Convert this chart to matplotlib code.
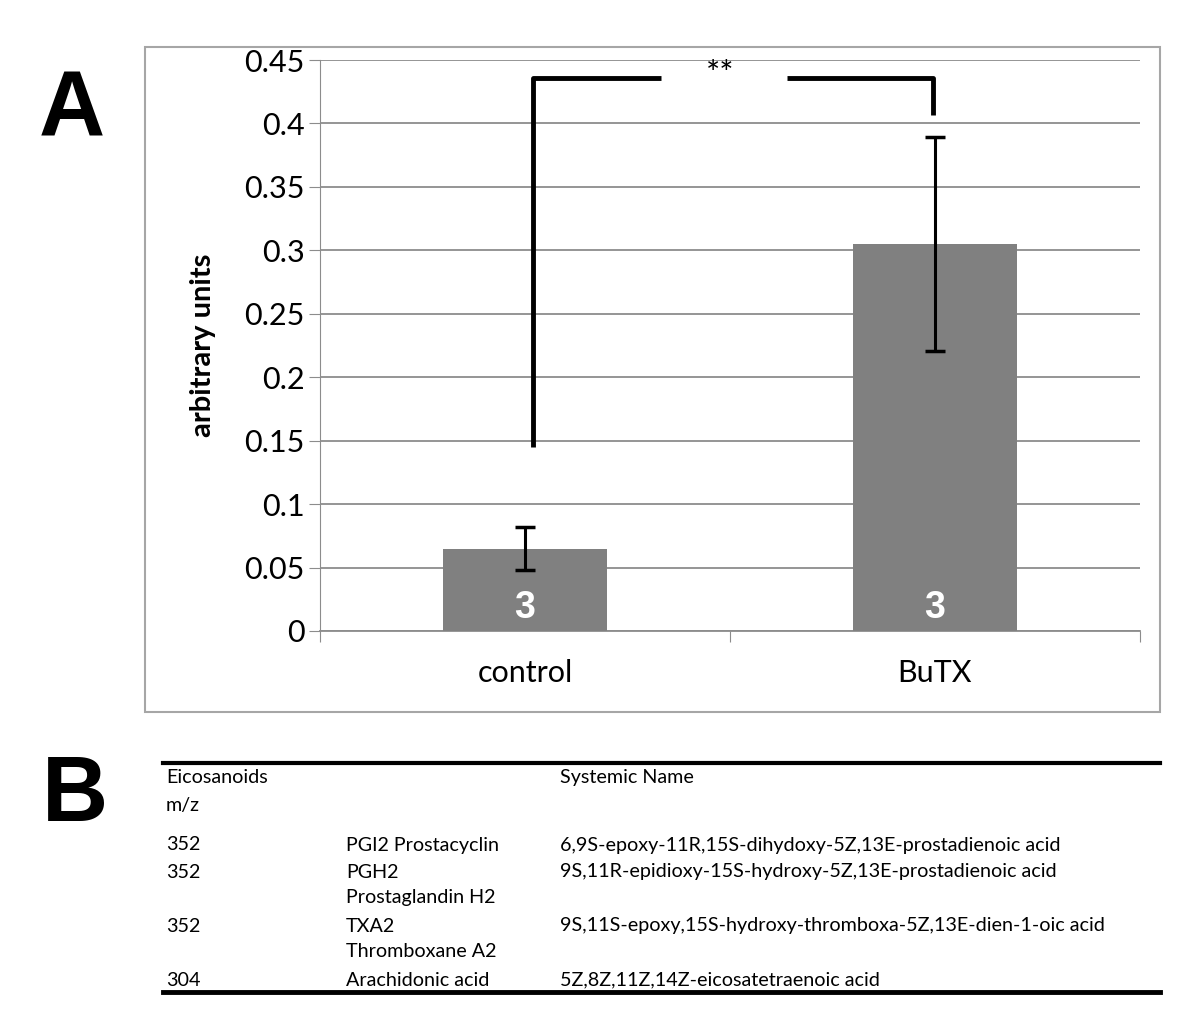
import numpy as np
import matplotlib
matplotlib.use('Agg')
from matplotlib import pyplot as plt
from matplotlib.patches import Rectangle
from matplotlib.lines import Line2D

plt.rcParams['font.family'] = ['Lato', 'DejaVu Sans']

# data
groups = ['control', 'BuTX']
means = [0.065, 0.305]
errs = [0.017, 0.084]
n_labels = ['3', '3']
yticks = [0, 0.05, 0.1, 0.15, 0.2, 0.25, 0.3, 0.35, 0.4, 0.45]
ytick_labels = ['0', '0.05', '0.1', '0.15', '0.2', '0.25', '0.3', '0.35', '0.4', '0.45']

tab_mz = ['352', '352', '352', '304']
tab_name = ['PGI2 Prostacyclin', 'PGH2\nProstaglandin H2', 'TXA2\nThromboxane A2', 'Arachidonic acid']
tab_sys = ['6,9S-epoxy-11R,15S-dihydoxy-5Z,13E-prostadienoic acid',
           '9S,11R-epidioxy-15S-hydroxy-5Z,13E-prostadienoic acid',
           '9S,11S-epoxy,15S-hydroxy-thromboxa-5Z,13E-dien-1-oic acid',
           '5Z,8Z,11Z,14Z-eicosatetraenoic acid']

W, H = 1200, 1032
fig = plt.figure(figsize=(W / 100, H / 100), dpi=100)

def fx(px):
    return px / W

def fy(py):
    return 1 - py / H

# chart frame
fig.patches.append(Rectangle((fx(145), fy(712)), fx(1160) - fx(145), fy(47) - fy(712),
                             transform=fig.transFigure, fill=False, edgecolor='#a6a6a6', lw=1.5))

ax = fig.add_axes([fx(320), fy(631), fx(1140) - fx(320), fy(60) - fy(631)])
x = np.array([0.5, 1.5])
ax.bar(x, means, width=0.4, color='#808080', zorder=3)
ax.errorbar(x, means, yerr=errs, fmt='none', ecolor='black', elinewidth=2.2,
            capsize=7, capthick=2.5, zorder=4)
for xi, lab in zip(x, n_labels):
    ax.text(xi, 0.018, lab, color='white', fontsize=27, fontweight='bold',
            ha='center', va='center', zorder=5, family='Liberation Sans')

ax.set_xlim(0, 2)
ax.set_ylim(0, 0.45)
ax.set_yticks(yticks)
ax.set_yticklabels(ytick_labels, fontsize=22)
ax.yaxis.grid(True, color='#8c8c8c', lw=1.3, zorder=0)
ax.set_xticks([0, 1, 2])
ax.set_xticklabels([])
ax.set_xticks(x, minor=True)
ax.set_xticklabels(groups, minor=True, fontsize=22)
ax.tick_params(axis='x', which='major', length=8, color='#8c8c8c', direction='out')
ax.tick_params(axis='x', which='minor', length=0, pad=20)
ax.tick_params(axis='y', length=8, color='#8c8c8c', pad=3)
for s in ['top', 'right']:
    ax.spines[s].set_visible(False)
ax.spines['left'].set_color('#8c8c8c')
ax.spines['bottom'].set_color('#8c8c8c')
ax.spines['bottom'].set_linewidth(1.3)
ax.set_ylabel('arbitrary units', fontsize=21, fontweight='bold', labelpad=20)

# significance bracket
bk = dict(color='black', lw=3.5, clip_on=False, zorder=6, solid_capstyle='butt')
ax.plot([0.52, 0.52, 0.832], [0.145, 0.436, 0.436], **bk)
ax.plot([1.139, 1.495, 1.495], [0.436, 0.436, 0.407], **bk)
ax.text(0.975, 0.438, '**', ha='center', va='center', fontsize=24)

fig.text(fx(72), fy(112), 'A', fontsize=66, fontweight='bold', ha='center', va='center',
         family='Liberation Sans')
fig.text(fx(75), fy(797), 'B', fontsize=66, fontweight='bold', ha='center', va='center',
         family='Liberation Sans')

# table
fig.lines.append(Line2D([fx(163), fx(1160)], [fy(763), fy(763)], transform=fig.transFigure,
                        color='black', lw=3))
fig.lines.append(Line2D([fx(163), fx(1160)], [fy(992), fy(992)], transform=fig.transFigure,
                        color='black', lw=3.5))
ts = 14.2
fig.text(fx(166), fy(769), 'Eicosanoids\nm/z', fontsize=ts, va='top', linespacing=1.8)
fig.text(fx(560), fy(778), 'Systemic Name', fontsize=ts, va='center')
row_y = [845, 872, 926, 980]
for yy, a, b, c in zip(row_y, tab_mz, tab_name, tab_sys):
    fig.text(fx(166), fy(yy), a, fontsize=ts, va='center')
    fig.text(fx(346), fy(yy - 8), b, fontsize=ts, va='top', linespacing=1.55)
    fig.text(fx(560), fy(yy), c, fontsize=ts, va='center')

fig.savefig('out.png', dpi=100)
